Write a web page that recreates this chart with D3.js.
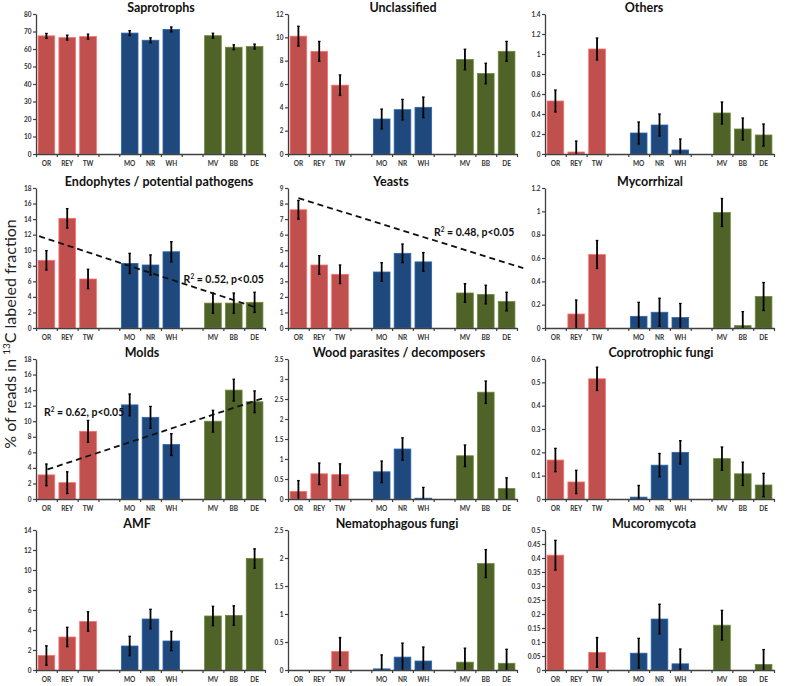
<!DOCTYPE html>
<html><head><meta charset="utf-8">
<script src="https://cdn.jsdelivr.net/npm/d3@7"></script>
<style>body{margin:0;background:#fff}svg{display:block}</style>
</head><body><svg id="c" width="799" height="686"></svg>
<script>
// ---------- data ----------
const categories = ["OR","REY","TW","MO","NR","WH","MV","BB","DE"];
const siteGroup  = [0,0,0,1,1,1,2,2,2];
const panelTitles = ["Saprotrophs","Unclassified","Others",
  "Endophytes / potential pathogens","Yeasts","Mycorrhizal",
  "Molds","Wood parasites / decomposers","Coprotrophic fungi",
  "AMF","Nematophagous fungi","Mucoromycota"];
const yMax  = [80,12,1.4, 18,9,1.2, 18,3.5,0.6, 14,2.5,0.5];
const yStep = [10,2,0.2,  2,1,0.2,  2,0.5,0.1,  2,0.5,0.05];

const saprotrophs    = [67.5,66.5,67.1,69.1,65.0,71.2,67.6,61.0,61.4];
const saprotrophsErr = [1.4,1.4,1.4,1.4,1.4,1.4,1.4,1.4,1.4];
const unclassified    = [10.1,8.8,5.9,3.0,3.8,4.0,8.1,6.9,8.8];
const unclassifiedErr = [0.85,0.85,0.88,0.85,0.88,0.88,0.88,0.88,0.85];
const others    = [0.53,0.02,1.05,0.21,0.29,0.04,0.41,0.25,0.19];
const othersErr = [0.11,0.11,0.11,0.11,0.11,0.11,0.11,0.11,0.11];
const endophytes    = [8.7,14.1,6.3,8.3,8.1,9.8,3.2,3.2,3.3];
const endophytesErr = [1.25,1.25,1.25,1.3,1.3,1.3,1.3,1.3,1.3];
const yeasts    = [7.6,4.05,3.45,3.6,4.8,4.25,2.25,2.15,1.7];
const yeastsErr = [0.6,0.6,0.6,0.6,0.6,0.6,0.6,0.6,0.6];
const mycorrhizal    = [0,0.12,0.63,0.10,0.135,0.09,0.99,0.02,0.27];
const mycorrhizalErr = [null,0.12,0.12,0.12,0.12,0.12,0.12,0.12,0.12];
const molds    = [3.1,2.1,8.7,12.1,10.5,7.0,10.0,14.0,12.5];
const moldsErr = [1.4,1.4,1.4,1.4,1.4,1.4,1.4,1.4,1.4];
const woodParasites    = [0.19,0.63,0.61,0.68,1.25,0.02,1.08,2.67,0.26];
const woodParasitesErr = [0.27,0.27,0.27,0.27,0.28,0.27,0.27,0.28,0.27];
const coprotrophic    = [0.167,0.073,0.515,0.008,0.145,0.2,0.173,0.108,0.06];
const coprotrophicErr = [0.05,0.05,0.05,0.05,0.05,0.05,0.05,0.05,0.05];
const amf    = [1.45,3.3,4.85,2.4,5.1,2.9,5.4,5.45,11.15];
const amfErr = [0.97,0.97,0.97,0.97,0.97,0.97,0.97,0.97,0.97];
const nematophagous    = [0,0,0.33,0.02,0.23,0.16,0.14,1.9,0.12];
const nematophagousErr = [null,null,0.25,0.25,0.25,0.25,0.25,0.25,0.25];
const mucoromycota    = [0.41,0,0.063,0.06,0.182,0.022,0.16,0,0.02];
const mucoromycotaErr = [0.053,null,0.053,0.053,0.053,0.053,0.053,null,0.053];

const panelValues = [saprotrophs,unclassified,others,endophytes,yeasts,mycorrhizal,
  molds,woodParasites,coprotrophic,amf,nematophagous,mucoromycota];
const panelErrors = [saprotrophsErr,unclassifiedErr,othersErr,endophytesErr,yeastsErr,mycorrhizalErr,
  moldsErr,woodParasitesErr,coprotrophicErr,amfErr,nematophagousErr,mucoromycotaErr];

// trend lines (slot units along x, data units along y)
const trendPanel      = [3, 4, 6];
const trendStartSlot  = [0.15, 0.5, 0.55];
const trendStartValue = [11.8, 8.35, 3.8];
const trendEndSlot    = [10.5, 11.3, 10.95];
const trendEndValue   = [2.7, 3.85, 13.0];
const trendR2         = ["0.52", "0.48", "0.62"];
const trendP          = ["p<0.05", "p<0.05", "p<0.05"];

// ---------- layout / style ----------
const groupColors = ["#C0504D", "#1F497D", "#4F6228"];
const colX = [36, 288, 545];
const rowBase = [154, 328, 499, 670];
const plotW = 229, plotH = 140, nSlots = 11;
const titleDx = [125,115,99, 123,103,105, 106,111,116, 101,109,109];
// label anchors: [slot, value, anchor]
const trendLabelPos = [[10.95, 6.3, "end"], [10.87, 6.2, "end"], [0.38, 11.2, "start"]];
const FONT = "Lato, 'Open Sans', 'Liberation Sans', sans-serif";

const svg = d3.select("#c");
svg.append("rect").attr("width",799).attr("height",686).attr("fill","#fff");

panelTitles.forEach((title, k) => {
  const col = k % 3, row = Math.floor(k / 3);
  const x0 = colX[col], base = rowBase[row], top = base - plotH;
  const y = d3.scaleLinear().domain([0, yMax[k]]).range([base, top]);
  const xs = d3.scaleLinear().domain([0, nSlots]).range([x0, x0 + plotW]);
  const xb = d3.scaleBand().domain(d3.range(nSlots)).range([x0, x0 + plotW])
    .paddingInner(0.2).paddingOuter(0.1);
  const g = svg.append("g");

  // title
  g.append("text").attr("x", x0 + titleDx[k]).attr("y", top - 2)
    .attr("text-anchor","middle").attr("font-family",FONT).attr("font-weight","bold")
    .attr("font-size", 12.5).attr("fill","#111").text(title);

  // bars
  const vals = panelValues[k], errs = panelErrors[k];
  const data = categories.map((c, i) => ({c, i, slot: i + siteGroup[i], v: vals[i], e: errs[i], grp: siteGroup[i]}));
  g.selectAll("rect.bar").data(data).join("rect").attr("class","bar")
    .attr("x", d => xb(d.slot)).attr("width", xb.bandwidth())
    .attr("y", d => y(d.v)).attr("height", d => y(0) - y(d.v))
    .attr("fill", d => groupColors[d.grp])
    .attr("stroke", d => d3.color(groupColors[d.grp]).brighter(0.9))
    .attr("stroke-width", d => d.v > 0 ? 0.8 : 0);

  // error bars
  const eb = data.filter(d => d.e != null);
  const cx = d => xb(d.slot) + xb.bandwidth() / 2;
  g.selectAll("line.err").data(eb).join("line").attr("class","err")
    .attr("x1", cx).attr("x2", cx)
    .attr("y1", d => y(Math.max(0, d.v - d.e))).attr("y2", d => y(d.v + d.e))
    .attr("stroke","#000").attr("stroke-width",1.8);
  g.selectAll("line.capT").data(eb).join("line").attr("class","capT")
    .attr("x1", d => cx(d) - 1.3).attr("x2", d => cx(d) + 1.3)
    .attr("y1", d => y(d.v + d.e)).attr("y2", d => y(d.v + d.e))
    .attr("stroke","#000").attr("stroke-width",1.3);
  g.selectAll("line.capB").data(eb.filter(d => d.v - d.e > 0)).join("line").attr("class","capB")
    .attr("x1", d => cx(d) - 1.3).attr("x2", d => cx(d) + 1.3)
    .attr("y1", d => y(d.v - d.e)).attr("y2", d => y(d.v - d.e))
    .attr("stroke","#000").attr("stroke-width",1.3);

  // y axis
  const ticks = d3.range(0, yMax[k] + yStep[k] / 2, yStep[k]).map(v => +v.toFixed(3));
  const ya = g.append("g").attr("transform", `translate(${x0},0)`)
    .call(d3.axisLeft(y).tickValues(ticks).tickSize(3).tickSizeOuter(0)
      .tickFormat(d => String(+d.toFixed(2))));
  ya.select(".domain").attr("stroke","#404040").attr("stroke-width",1.3);
  ya.selectAll(".tick line").attr("stroke","#404040").attr("stroke-width",1.2);
  ya.selectAll(".tick text").attr("font-family",FONT).attr("font-size",6.5)
    .attr("font-weight","bold").attr("fill","#333").attr("x",-4.5);

  // x axis line + boundary ticks
  const xa = g.append("g").attr("transform", `translate(0,${base})`)
    .call(d3.axisBottom(xs).tickValues(d3.range(nSlots + 1)).tickSize(3).tickSizeOuter(0).tickFormat(""));
  xa.select(".domain").attr("stroke","#404040").attr("stroke-width",1.3);
  xa.selectAll(".tick line").attr("stroke","#404040").attr("stroke-width",1.2);

  // category labels
  const slotLabel = d3.range(nSlots).map(s => { const d = data.find(q => q.slot === s); return d ? d.c : ""; });
  const xl = g.append("g").attr("transform", `translate(0,${base})`)
    .call(d3.axisBottom(xb).tickSize(0).tickPadding(7).tickFormat(s => slotLabel[s]));
  xl.select(".domain").remove();
  xl.selectAll(".tick text").attr("font-family",FONT).attr("font-size",6.5)
    .attr("font-weight","bold").attr("fill","#333");

  // trend line
  const t = trendPanel.indexOf(k);
  if (t >= 0) {
    g.append("line")
      .attr("x1", xs(trendStartSlot[t])).attr("y1", y(trendStartValue[t]))
      .attr("x2", xs(trendEndSlot[t])).attr("y2", y(trendEndValue[t]))
      .attr("stroke","#111").attr("stroke-width",1.8).attr("stroke-dasharray","6,4");
    const lp = trendLabelPos[t];
    const tx = g.append("text").attr("x", xs(lp[0])).attr("y", y(lp[1]) + 4)
      .attr("text-anchor", lp[2]).attr("font-family",FONT).attr("font-weight","bold")
      .attr("font-size",10.5).attr("fill","#111");
    tx.append("tspan").text("R");
    tx.append("tspan").attr("font-size",6.5).attr("dy",-4).text("2");
    tx.append("tspan").attr("dy",4).text(" = " + trendR2[t] + ", " + trendP[t]);
  }
});

// shared y-axis title
const yt = svg.append("text").attr("transform","translate(16,334) rotate(-90)")
  .attr("text-anchor","middle").attr("font-family",FONT).attr("font-size",16).attr("fill","#222");
yt.append("tspan").text("% of reads in ");
yt.append("tspan").attr("font-size",10).attr("dy",-6).text("13");
yt.append("tspan").attr("dy",6).text("C labeled fraction");
</script></body></html>
